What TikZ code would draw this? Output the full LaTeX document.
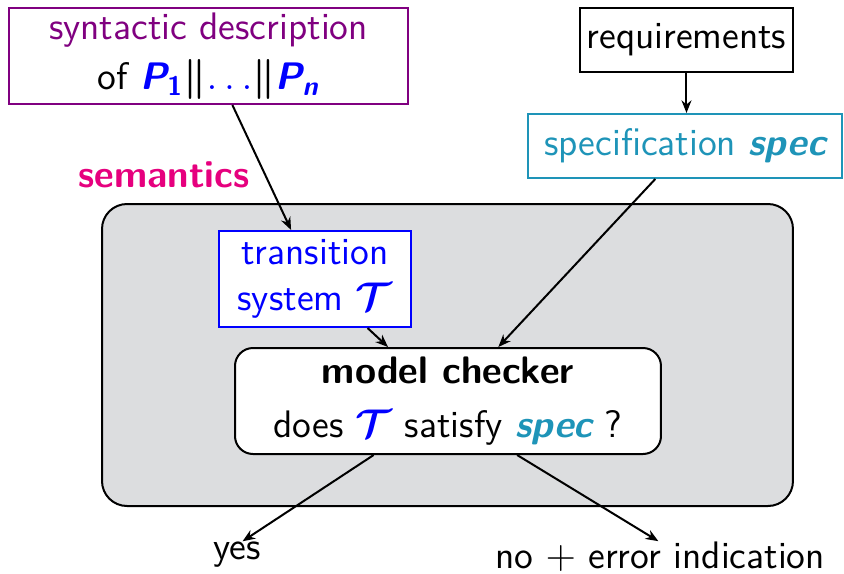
\documentclass[tikz,border=0pt]{standalone}
\usepackage{amsmath}
\usetikzlibrary{arrows.meta}
\definecolor{syncol}{RGB}{128,0,128}
\definecolor{speccol}{RGB}{30,148,184}
\definecolor{semcol}{RGB}{230,0,126}
\definecolor{envgray}{RGB}{220,221,223}
\newcommand{\Tsys}{\boldsymbol{\mathcal{T}}}
\newcommand{\specname}{{\bfseries\itshape spec}}
\newcommand{\Proc}[1]{{\color{blue}\bfseries\itshape P\textsubscript{#1}}}

\begin{document}
\begin{tikzpicture}[x=0.3pt,y=-0.3pt,line width=0.6pt,
    font=\sffamily\fontsize{11.5}{14}\selectfont,
    >={Stealth[length=3.8pt,width=3pt]},
    box/.style={draw,fill=white,align=center,inner sep=0pt},
    lbl/.style={inner sep=0pt}]
  \useasboundingbox (0,0) rectangle (844,574);

  % checking environment
  \node[draw,fill=envgray,rounded corners=7.5pt,minimum width=207.3pt,
        minimum height=90.6pt] (env) at (447.5,355) {};

  \node[box,draw=syncol,minimum width=119.7pt,minimum height=28.8pt] (synt) at (208.5,56)
    {{\color{syncol}syntactic description}\\[1pt]
     of \Proc{\upshape 1}$\boldsymbol{\|}${\color{blue}$\ldots$}$\boldsymbol{\|}$\Proc{n}};
  \node[box,minimum width=63.9pt,minimum height=19.2pt] (req) at (686.5,40) {requirements};
  \node[box,draw=speccol,text=speccol,minimum width=94.5pt,minimum height=19.2pt] (spec)
    at (685,146) {specification \specname};
  \node[lbl,text=semcol,font=\sffamily\bfseries\fontsize{11.5}{14}\selectfont] (sem)
    at (164,175) {semantics};

  \node[box,draw=blue,text=blue,minimum width=57.6pt,minimum height=28.8pt] (ts)
    at (315,279) {transition\\ system $\Tsys$};
  \node[box,rounded corners=5.4pt,minimum width=127.8pt,minimum height=31.8pt] (mc)
    at (448,401) {{\bfseries model checker}\\[2pt]
      does {\color{blue}$\Tsys$} satisfy {\color{speccol}\specname}\ ?};

  \node[lbl] (yes) at (237,555) {yes};
  \node[lbl] (no) at (660,557) {no $+$ error indication};

  \draw[->] (synt.-64) -- (ts.116);
  \draw[->] (req.south) -- (req.south |- spec.north);
  \draw[->] (spec.-132) -- (mc.47);
  \draw[->] (ts.-43) -- (mc.138);
  \draw[->] (mc.-144) -- (yes.68);
  \draw[->] (mc.-38) -- (no.96);
\end{tikzpicture}
\end{document}
